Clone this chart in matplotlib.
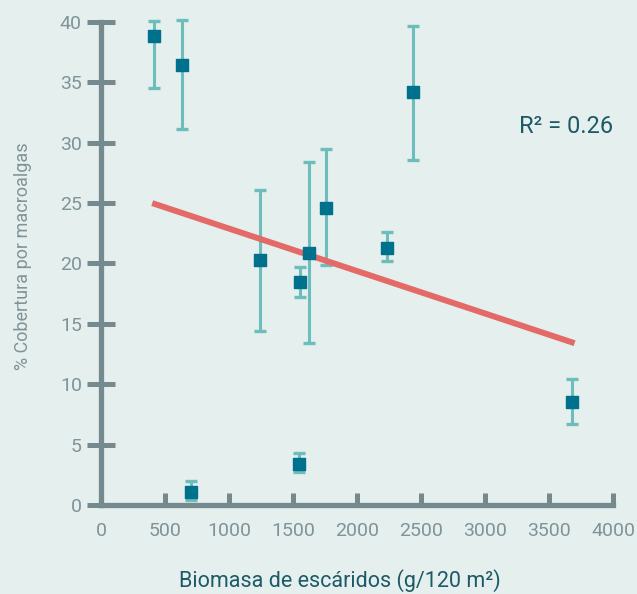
import numpy as np
import matplotlib.pyplot as plt

# datos: biomasa de escaridos vs cobertura de macroalgas
biomasa = [414, 633, 700, 1242, 1552, 1625, 1758, 2234, 2437, 1547, 3680]
cobertura = [38.8, 36.4, 1.1, 20.25, 18.5, 20.85, 24.6, 21.3, 34.2, 3.4, 8.55]
err_sup = [40.1, 40.2, 2.0, 26.1, 19.75, 28.4, 29.5, 22.6, 39.7, 4.3, 10.45]
err_inf = [34.5, 31.1, 0.4, 14.4, 17.2, 13.4, 19.9, 20.2, 28.6, 2.7, 6.7]

# linea de tendencia
tend_x = [400, 3700]
tend_y = [25.0, 13.4]

x_ticks = [0, 500, 1000, 1500, 2000, 2500, 3000, 3500, 4000]
y_ticks = [0, 5, 10, 15, 20, 25, 30, 35, 40]

bg = '#e5efed'
ejes = '#748a8f'
txt = '#7f9398'

plt.rcParams['font.family'] = ['Roboto', 'DejaVu Sans']

fig = plt.figure(figsize=(6.37, 5.94), dpi=100, facecolor=bg)
ax = fig.add_axes([0.1586, 0.1498, 0.8037, 0.8132], facecolor=bg)

y = np.array(cobertura)
yerr = [y - np.array(err_inf), np.array(err_sup) - y]
ax.errorbar(biomasa, y, yerr=yerr, fmt='none', ecolor='#6dbdbd',
            elinewidth=2.2, capsize=4.5, capthick=2.4, clip_on=False, zorder=2)
ax.plot(tend_x, tend_y, color='#e36a66', lw=4.3, solid_capstyle='butt', zorder=3)
ax.scatter(biomasa, y, marker='s', s=85, color='#00718d', zorder=4, clip_on=False)

ax.set_xlim(0, 4000)
ax.set_ylim(0, 40)
ax.set_xticks(x_ticks)
ax.set_yticks(y_ticks)

for s in ['top', 'right']:
    ax.spines[s].set_visible(False)
for s in ['left', 'bottom']:
    ax.spines[s].set_color(ejes)
    ax.spines[s].set_linewidth(3.8)

ax.tick_params(axis='y', direction='inout', length=19.5, width=3.6, color=ejes,
               labelcolor=txt, labelsize=14, pad=4)
ax.tick_params(axis='x', direction='in', length=8.5, width=3.6, color=ejes,
               labelcolor=txt, labelsize=14, pad=12)

ax.set_xlabel('Biomasa de escáridos (g/120 m²)', color='#1d5a67', fontsize=15.5)
ax.xaxis.set_label_coords(0.467, -0.133)
ax.set_ylabel('% Cobertura por macroalgas', color=txt, fontsize=13)
ax.yaxis.set_label_coords(-0.135, 0.516)

ax.text(1.0, 0.783, 'R² = 0.26', transform=ax.transAxes, ha='right', va='center',
        color='#1d5a67', fontsize=17)

fig.savefig('out.png', dpi=100, facecolor=bg)
